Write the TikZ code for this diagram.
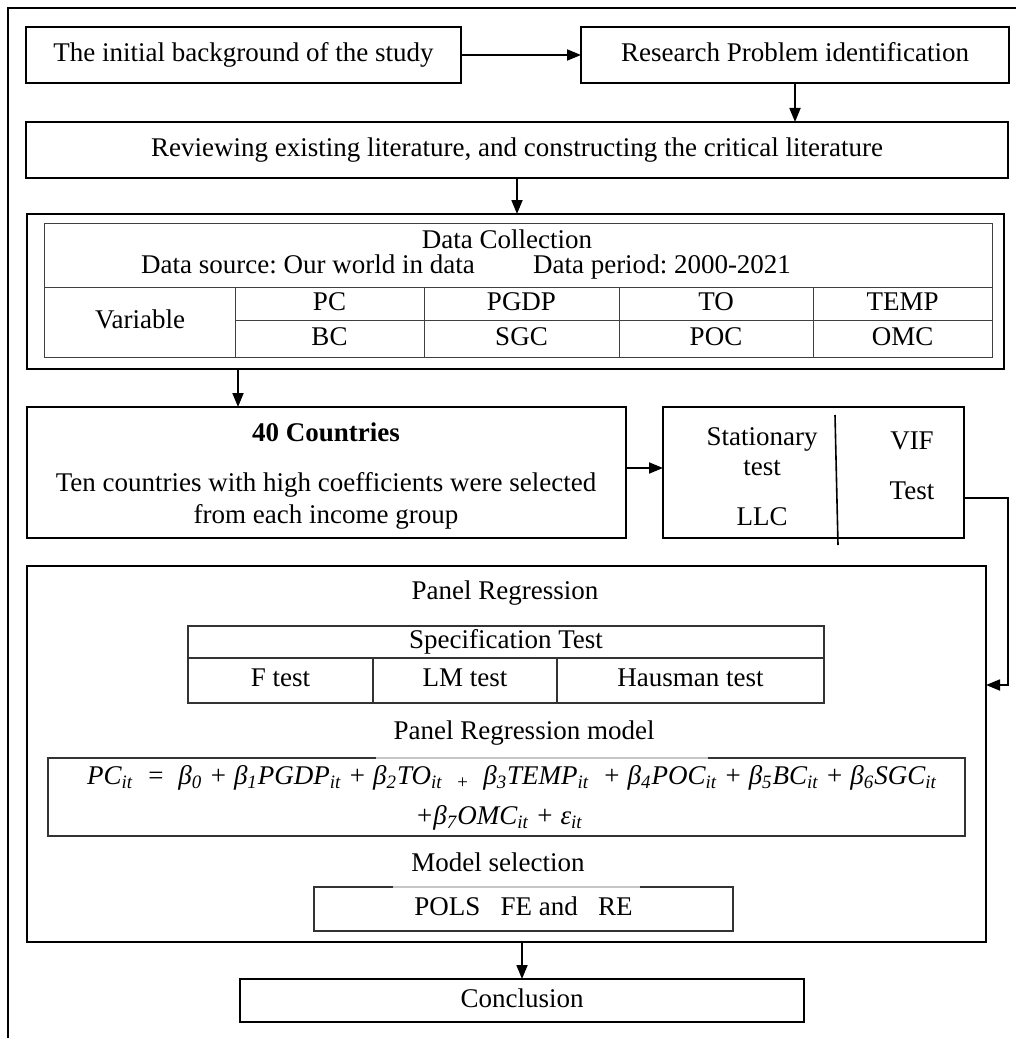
\documentclass[tikz,border=0pt]{standalone}
\usepackage{fontspec}
\setmainfont{Liberation Serif}
\usetikzlibrary{arrows.meta}
\tikzset{box/.style={draw=black, line width=0.9pt, inner sep=0pt, outer sep=0pt, align=center, text height=0.66em, text depth=0pt},
%thin frames inside the panel box
thinbox/.style={box, draw=black!80, line width=0.55pt},
arr/.style={line width=0.9pt, -{Triangle[length=7pt,width=5.5pt]}},
cell/.style={draw=black!75, line width=0.45pt},
txt/.style={inner sep=0pt, text height=0.66em, text depth=0pt}}
\newcommand{\sbit}{\textsubscript{it}}
\frenchspacing

\begin{document}
\begin{tikzpicture}[x=0.5pt,y=-0.5pt,font=\fontsize{13.5}{16}\selectfont]
	\useasboundingbox (0,0) rectangle (1016,1038);
	\draw[line width=0.7pt] (8,1038) -- (8,8) -- (1016,8);

	\node[box, minimum width=217.5pt, minimum height=28pt] (bg) at (243.5,55) {The initial background of the study};
	\node[box, minimum width=214pt, minimum height=28pt] (prob) at (795,55) {Research Problem identification};
	\node[box, minimum width=491pt, minimum height=28pt] (lit) at (517,150) {Reviewing existing literature, and constructing the critical literature};

	% data collection table
	\node[box, line width=1.4pt, minimum width=488.5pt, minimum height=77.5pt] (data) at (515.5,291.5) {};
	\draw[cell] (44,223) rectangle (992,357) (44,287) -- (992,287) (235,320) -- (992,320);
	\foreach \x in {235,424,619,813} \draw[cell] (\x,287) -- (\x,357);
	\node[txt] (dc) at (507,242) {Data Collection};
	\node[txt] (src) at (308,267) {Data source: Our world in data};
	\node[txt] (per) at (662,267) {Data period: 2000-2021};
	\node[txt] (var) at (140,322) {Variable};
	\foreach \t/\b/\x [count=\i] in {PC/BC/329.5, PGDP/SGC/521.5, TO/POC/716, TEMP/OMC/902.5} {
		\node[txt] (v\i) at (\x,303.5) {\t};
		\node[txt] (w\i) at (\x,338.5) {\b};
	}

	\node[box, minimum width=299.5pt, minimum height=65.5pt] (ctry) at (326.5,472.5) {};
	\node[txt] (forty) at (326,435) {\bfseries 40 Countries};
	\node[txt] (ten) at (326,485) {Ten countries with high coefficients were selected};
	\node[txt] (grp) at (326,517) {from each income group};

	\node[box, minimum width=150.5pt, minimum height=65.5pt] (stat) at (813.5,472.5) {};
	\draw[line width=0.8pt] (835,415) -- (838,545);
	\node[txt] (st) at (762,439) {Stationary};
	\node[txt] (stt) at (762,469) {test};
	\node[txt] (llc) at (762,519) {LLC};
	\node[txt] (vif) at (912,443) {VIF};
	\node[txt] (vift) at (912,493) {Test};

	% panel regression
	\node[box, minimum width=479.5pt, minimum height=188pt] (panel) at (506.5,754) {};
	\node[txt] (pr) at (505,593) {Panel Regression};
	\draw[thinbox] (188,626) rectangle (824,703) (188,658) -- (824,658) (373,658) -- (373,703) (557,658) -- (557,703);
	\node[txt] (spec) at (506,642) {Specification Test};
	\node[txt] (ft) at (280.5,680) {F test};
	\node[txt] (lm) at (465,680) {LM test};
	\node[txt] (hm) at (690.5,680) {Hausman test};
	\node[txt] (prm) at (524,733) {Panel Regression model};
	\node[thinbox, minimum width=458.5pt, minimum height=39pt] (eqbox) at (506.5,797) {};
	\draw[gray!45, line width=0.55pt] (376,758) -- (708,758);
	\node[txt] (eqa) at (512,778) {\itshape PC\sbit\ \ =\ \ β\textsubscript{0} + β\textsubscript{1}PGDP\sbit{} + β\textsubscript{2}TO\sbit\ \ \textsubscript{+}\ \ β\textsubscript{3}TEMP\sbit\ \ + β\textsubscript{4}POC\sbit{} + β\textsubscript{5}BC\sbit{} + β\textsubscript{6}SGC\sbit};
	\node[txt] (eqb) at (499,818) {\itshape +β\textsubscript{7}OMC\sbit{} + ε\sbit};
	\node[txt] (ms) at (498,865) {Model selection};
	\node[thinbox, minimum width=209.5pt, minimum height=22pt] (pols) at (523.5,909) {POLS\ \ \ FE and\ \ \ RE};
	\draw[gray!45, line width=0.55pt] (393,887) -- (640,887);

	\node[box, minimum width=282pt, minimum height=21.5pt] (concl) at (522,1000.5) {Conclusion};

	\coordinate (a1) at (238,0);
	\coordinate (a2) at (0,468);
	\coordinate (a3) at (0,498);
	\coordinate (a4) at (1008,685);
	\draw[arr] (bg) -- (prob);
	\draw[arr] (prob.south) -- (prob.south |- lit.north);
	\draw[arr] (lit.south) -- (lit.south |- data.north);
	\draw[arr] (data.south -| a1) -- (ctry.north -| a1);
	\draw[arr] (ctry.east |- a2) -- (stat.west |- a2);
	\draw[arr] (stat.east |- a3) -| (a4) -- (panel.east |- a4);
	\draw[arr] (panel.south -| concl) -- (concl.north);

\end{tikzpicture}
\end{document}
